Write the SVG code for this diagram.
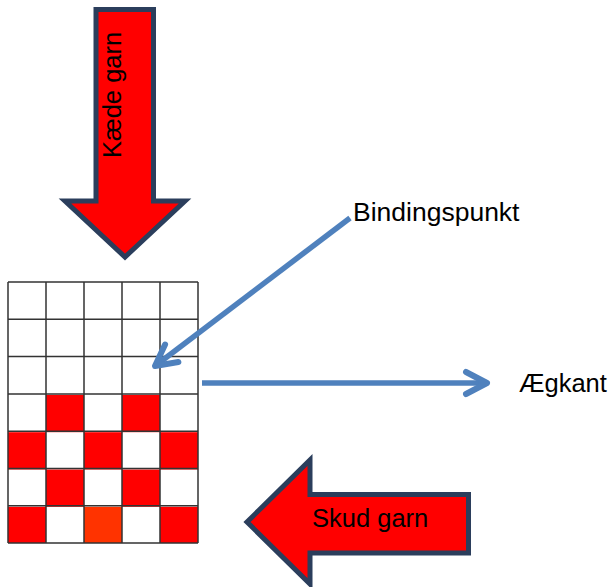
<svg xmlns="http://www.w3.org/2000/svg" width="614" height="587" viewBox="0 0 614 587">
<style>
.big{fill:#ff0000;stroke:#2b3e5c;stroke-width:5;stroke-linejoin:miter}
.lbl{font-family:"Liberation Sans",Arial,sans-serif;font-size:25.5px;fill:#000}
.grid{stroke:#333;stroke-width:1.5;fill:none}
.red{fill:#ff0000}
.conn{stroke:#4f81bd;stroke-width:5.5;fill:none}
</style>
<defs>
<marker id="ah" markerUnits="userSpaceOnUse" viewBox="-26 -15 30 30" refX="0" refY="0" markerWidth="30" markerHeight="30" orient="auto">
<path d="M-21,-11 L0,0 L-21,11" fill="none" stroke="#4f81bd" stroke-width="6" stroke-linecap="round" stroke-linejoin="round"/>
</marker>
</defs>
<rect width="614" height="587" fill="#fff"/>
<g id="kaede-garn">
<path class="big" d="M96,9.5 L153.5,9.5 L153.5,201 L185,201 L125,257 L65,201 L96,201 Z"/>
<text class="lbl" transform="translate(121,158) rotate(-90)">Kæde garn</text>
</g>
<g id="skud-garn">
<path class="big" d="M468.5,494.5 L310,494.5 L310,460 L247,522 L310,584 L310,553 L468.5,553 Z"/>
<text class="lbl" x="312" y="527">Skud garn</text>
</g>
<g id="vaev">
<rect class="red" x="46" y="394.9" width="38" height="37.3"/>
<rect class="red" x="122" y="394.9" width="38" height="37.3"/>
<rect class="red" x="8" y="432.2" width="38" height="37.3"/>
<rect class="red" x="84" y="432.2" width="38" height="37.3"/>
<rect class="red" x="160" y="432.2" width="38" height="37.3"/>
<rect class="red" x="46" y="469.5" width="38" height="37.3"/>
<rect class="red" x="122" y="469.5" width="38" height="37.3"/>
<rect class="red" x="8" y="506.8" width="38" height="36.2"/>
<rect x="84" y="506.8" width="38" height="36.2" fill="#ff3300"/>
<rect class="red" x="160" y="506.8" width="38" height="36.2"/>
<path class="grid" d="M8,282 H198 M8,319.3 H198 M8,356.6 H198 M8,393.9 H198 M8,431.2 H198 M8,468.5 H198 M8,505.8 H198 M8,543 H198 M8,282 V543 M46,282 V543 M84,282 V543 M122,282 V543 M160,282 V543 M198,282 V543"/>
</g>
<g id="bindingspunkt">
<text class="lbl" x="353" y="221" style="font-size:26.5px">Bindingspunkt</text>
</g>
<g id="aegkant">
<text class="lbl" x="519" y="392">Ægkant</text>
</g>
<g id="connectors">
<line class="conn" x1="350" y1="218" x2="155" y2="366" marker-end="url(#ah)"/>
<line class="conn" x1="202" y1="383" x2="487" y2="383" marker-end="url(#ah)"/>
</g>
</svg>
